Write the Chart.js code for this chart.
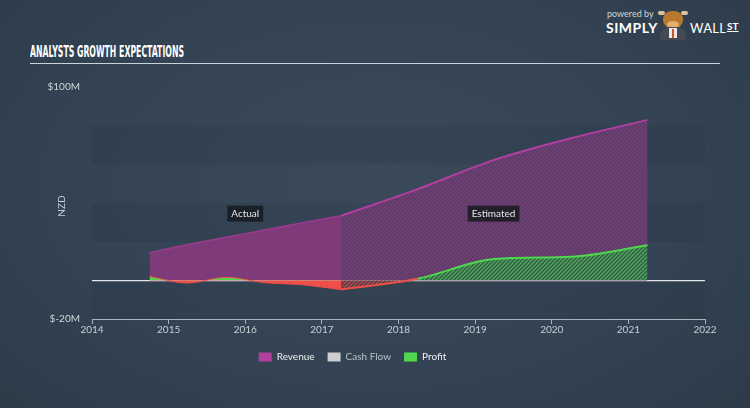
<!DOCTYPE html>
<html>
<head>
<meta charset="utf-8">
<script src="https://cdn.jsdelivr.net/npm/chart.js@4.4.0/dist/chart.umd.min.js"></script>
<style>
  html, body { margin: 0; padding: 0; }
  body {
    width: 750px; height: 408px; overflow: hidden; position: relative;
    background: radial-gradient(ellipse 75% 85% at 50% 45%, #3a4a5b 0%, #334353 55%, #2c3947 100%);
    font-family: Lato, sans-serif;
  }
  #title {
    position: absolute; left: 30px; top: 44px; color: #fff; white-space: nowrap;
    font: bold 16px/16px "Liberation Sans Narrow", "DejaVu Sans Condensed", sans-serif;
    transform-origin: left top;
  }
  #rule { position: absolute; left: 30px; top: 63px; width: 690px; height: 1px; background: #c9d3da; }
  #powered { position: absolute; left: 607px; top: 8px; font-size: 9px; color: #cfd6dc; }
  #simply { position: absolute; left: 606px; top: 19px; font-size: 14px; font-weight: bold; color: #fff; letter-spacing: 0.5px; }
  #wall { position: absolute; left: 690px; top: 20px; font-size: 13px; font-weight: 400; color: #fff; letter-spacing: 0.3px; }
  #st { position: absolute; left: 727px; top: 20px; font-size: 10px; font-weight: bold; color: #fff; text-decoration: underline; }
  #bull { position: absolute; left: 658px; top: 8px; width: 30px; height: 32px; }
  #bull .horn { position: absolute; top: 3px; width: 7px; height: 4px; background: #d9c49a; border-radius: 3px; }
  #bull .head { position: absolute; left: 5px; top: 3px; width: 20px; height: 18px; border-radius: 45% 45% 50% 50%; background: #b9782f; }
  #bull .snout { position: absolute; left: 9px; top: 13px; width: 12px; height: 7px; border-radius: 50%; background: #e0b070; }
  #bull .body { position: absolute; left: 2px; top: 19px; width: 26px; height: 13px; border-radius: 9px 9px 2px 2px; background: #454a52; }
  #bull .shirt { position: absolute; left: 11px; top: 20px; width: 8px; height: 10px; background: #e9e9e9; }
  #bull .tie { position: absolute; left: 14px; top: 21px; width: 2px; height: 9px; background: #d2542d; }
  canvas { position: absolute; left: 0; top: 0; }
</style>
</head>
<body>
<div id="title">ANALYSTS GROWTH EXPECTATIONS</div>
<div id="rule"></div>
<div id="powered">powered by</div>
<div id="simply">SIMPLY</div>
<div id="bull">
  <div class="horn" style="left:0"></div><div class="horn" style="left:23px"></div>
  <div class="head"></div><div class="snout"></div>
  <div class="body"></div><div class="shirt"></div><div class="tie"></div>
</div>
<div id="wall">WALL</div>
<div id="st">ST</div>
<canvas id="chart" width="750" height="408"></canvas>
<script>
// data (NZD millions)
const seriesNames = ['Revenue', 'Cash Flow', 'Profit'];
const actualYears = [2014.75, 2015.25, 2015.75, 2016.25, 2016.75, 2017.25];
const revenueActual = [14.2, 18.5, 22.3, 26.0, 29.8, 33.4];
const profitActual = [2.0, -1.4, 1.6, -1.2, -2.3, -4.8];
const estimateYears = [2017.25, 2018.25, 2019.25, 2020.25, 2021.25];
const revenueEstimate = [33.4, 47.2, 62.3, 73.5, 83.0];
const profitEstimate = [-4.8, 0.8, 11.0, 12.2, 18.1];
const cashFlow = [];
const yearTicks = [2014, 2015, 2016, 2017, 2018, 2019, 2020, 2021, 2022];
const valueTicks = [-20, 0, 100];

const title = document.getElementById('title');
title.style.transform = 'scaleX(' + (154 / title.getBoundingClientRect().width) + ')';

const canvas = document.getElementById('chart');
const ctx = canvas.getContext('2d');

function hatch(bg, stripe) {
    const c = document.createElement('canvas');
    c.width = 4; c.height = 4;
    const g = c.getContext('2d');
    g.fillStyle = bg;
    g.fillRect(0, 0, 4, 4);
    g.strokeStyle = stripe;
    g.lineWidth = 1.2;
    g.beginPath();
    g.moveTo(-1, 5); g.lineTo(5, -1);
    g.moveTo(-1, 1); g.lineTo(1, -1);
    g.moveTo(3, 5); g.lineTo(5, 3);
    g.stroke();
    return ctx.createPattern(c, 'repeat');
}

const pts = (xs, ys) => xs.map((x, i) => ({ x: x, y: ys[i] }));

const GREEN = '#4fd84f', RED = '#ee4f48', PURPLE = '#b23fa0';
const signColor = (pos, neg) => c => (c.p0.parsed.y < 0 || c.p1.parsed.y < 0) ? neg : pos;

// bands behind the plot
const bands = {
    id: 'bands',
    beforeDraw(chart) {
        const { ctx, chartArea: a, scales: { y } } = chart;
        ctx.save();
        ctx.fillStyle = 'rgba(10,18,28,0.07)';
        for (let v = -20; v < 100; v += 40) {
            const top = y.getPixelForValue(v + 20), bottom = y.getPixelForValue(v);
            ctx.fillRect(a.left, top, a.right - a.left, bottom - top);
        }
        ctx.restore();
    }
};

// Actual / Estimated tags and the NZD axis name
const tags = {
    id: 'tags',
    afterDatasetsDraw(chart) {
        const { ctx, chartArea: a, scales: { x, y } } = chart;
        ctx.save();
        ctx.font = '10px Lato';
        ctx.textAlign = 'center';
        ctx.textBaseline = 'middle';
        [['Actual', 2016.0], ['Estimated', 2019.24]].forEach(([t, yr]) => {
            const cx = x.getPixelForValue(yr), cy = y.getPixelForValue(34.5);
            const w = ctx.measureText(t).width + 8;
            ctx.fillStyle = 'rgba(22,26,32,0.85)';
            ctx.fillRect(cx - w / 2, cy - 8, w, 16);
            ctx.fillStyle = '#e6e9ec';
            ctx.fillText(t, cx, cy + 0.5);
        });
        ctx.translate(62, (a.top + a.bottom) / 2 + 3);
        ctx.rotate(-Math.PI / 2);
        ctx.fillStyle = '#c8ced4';
        ctx.fillText('NZD', 0, 0);
        ctx.restore();
    }
};

new Chart(ctx, {
    type: 'line',
    data: {
        datasets: [
            {
                label: 'Profit estimate',
                data: pts(estimateYears, profitEstimate),
                borderColor: GREEN,
                segment: { borderColor: signColor(GREEN, RED) },
                borderWidth: 2,
                fill: { target: 'origin', above: hatch('#35604a', '#54b25e'), below: hatch('#5a3a4a', '#c0504c') }
            },
            {
                label: 'Profit',
                data: pts(actualYears, profitActual),
                borderColor: GREEN,
                segment: { borderColor: signColor(GREEN, RED) },
                borderWidth: 1,
                fill: { target: 'origin', above: '#52d452', below: RED }
            },
            {
                label: 'Revenue estimate',
                data: pts(estimateYears, revenueEstimate),
                borderColor: PURPLE,
                borderWidth: 2,
                backgroundColor: hatch('#5b3c66', '#7a407b'),
                fill: 'origin'
            },
            {
                label: 'Revenue',
                data: pts(actualYears, revenueActual),
                borderColor: '#9a3b8e',
                borderWidth: 1.5,
                backgroundColor: '#7f3a79',
                fill: 'origin'
            },
            {
                label: 'Cash Flow',
                data: cashFlow,
                borderColor: '#cfcfcf'
            }
        ]
    },
    options: {
        responsive: false,
        animation: false,
        layout: { padding: { top: 87, right: 45, left: 0, bottom: 36 } },
        elements: {
            point: { radius: 0 },
            line: { cubicInterpolationMode: 'monotone' }
        },
        plugins: {
            tooltip: { enabled: false },
            legend: {
                position: 'bottom',
                labels: {
                    font: { family: 'Lato', size: 10 },
                    boxWidth: 13,
                    boxHeight: 9,
                    padding: 13,
                    generateLabels: () => seriesNames.map((n, i) => ({
                        text: n,
                        fillStyle: [PURPLE, '#cfcfcf', GREEN][i],
                        strokeStyle: 'rgba(0,0,0,0)',
                        lineWidth: 0,
                        fontColor: i === 1 ? '#b9c0c7' : '#eef0f2',
                        hidden: false
                    }))
                }
            }
        },
        scales: {
            x: {
                type: 'linear',
                min: yearTicks[0],
                max: yearTicks[yearTicks.length - 1],
                afterBuildTicks: s => { s.ticks = yearTicks.map(v => ({ value: v })); },
                afterFit: s => { s.height = 20; },
                ticks: {
                    color: '#c8ced4',
                    font: { family: 'Lato', size: 10 },
                    padding: 0,
                    maxRotation: 0,
                    callback: v => String(v)
                },
                grid: { drawOnChartArea: false, drawTicks: true, tickLength: 5, color: '#aab3bb' },
                border: { display: true, color: '#aab3bb' }
            },
            y: {
                min: -20,
                max: 100,
                z: 1,
                afterBuildTicks: s => { s.ticks = valueTicks.map(v => ({ value: v })); },
                afterFit: s => { s.width = 92; },
                ticks: {
                    color: '#d0d5da',
                    font: { family: 'Lato', size: 10 },
                    padding: 12,
                    callback: v => v === 0 ? '' : '$' + v + 'M'
                },
                grid: {
                    drawTicks: false,
                    lineWidth: 1.2,
                    color: c => c.tick && c.tick.value === 0 ? '#e1e6ea' : 'rgba(0,0,0,0)'
                },
                border: { display: false }
            }
        }
    },
    plugins: [bands, tags]
});
</script>
</body>
</html>
